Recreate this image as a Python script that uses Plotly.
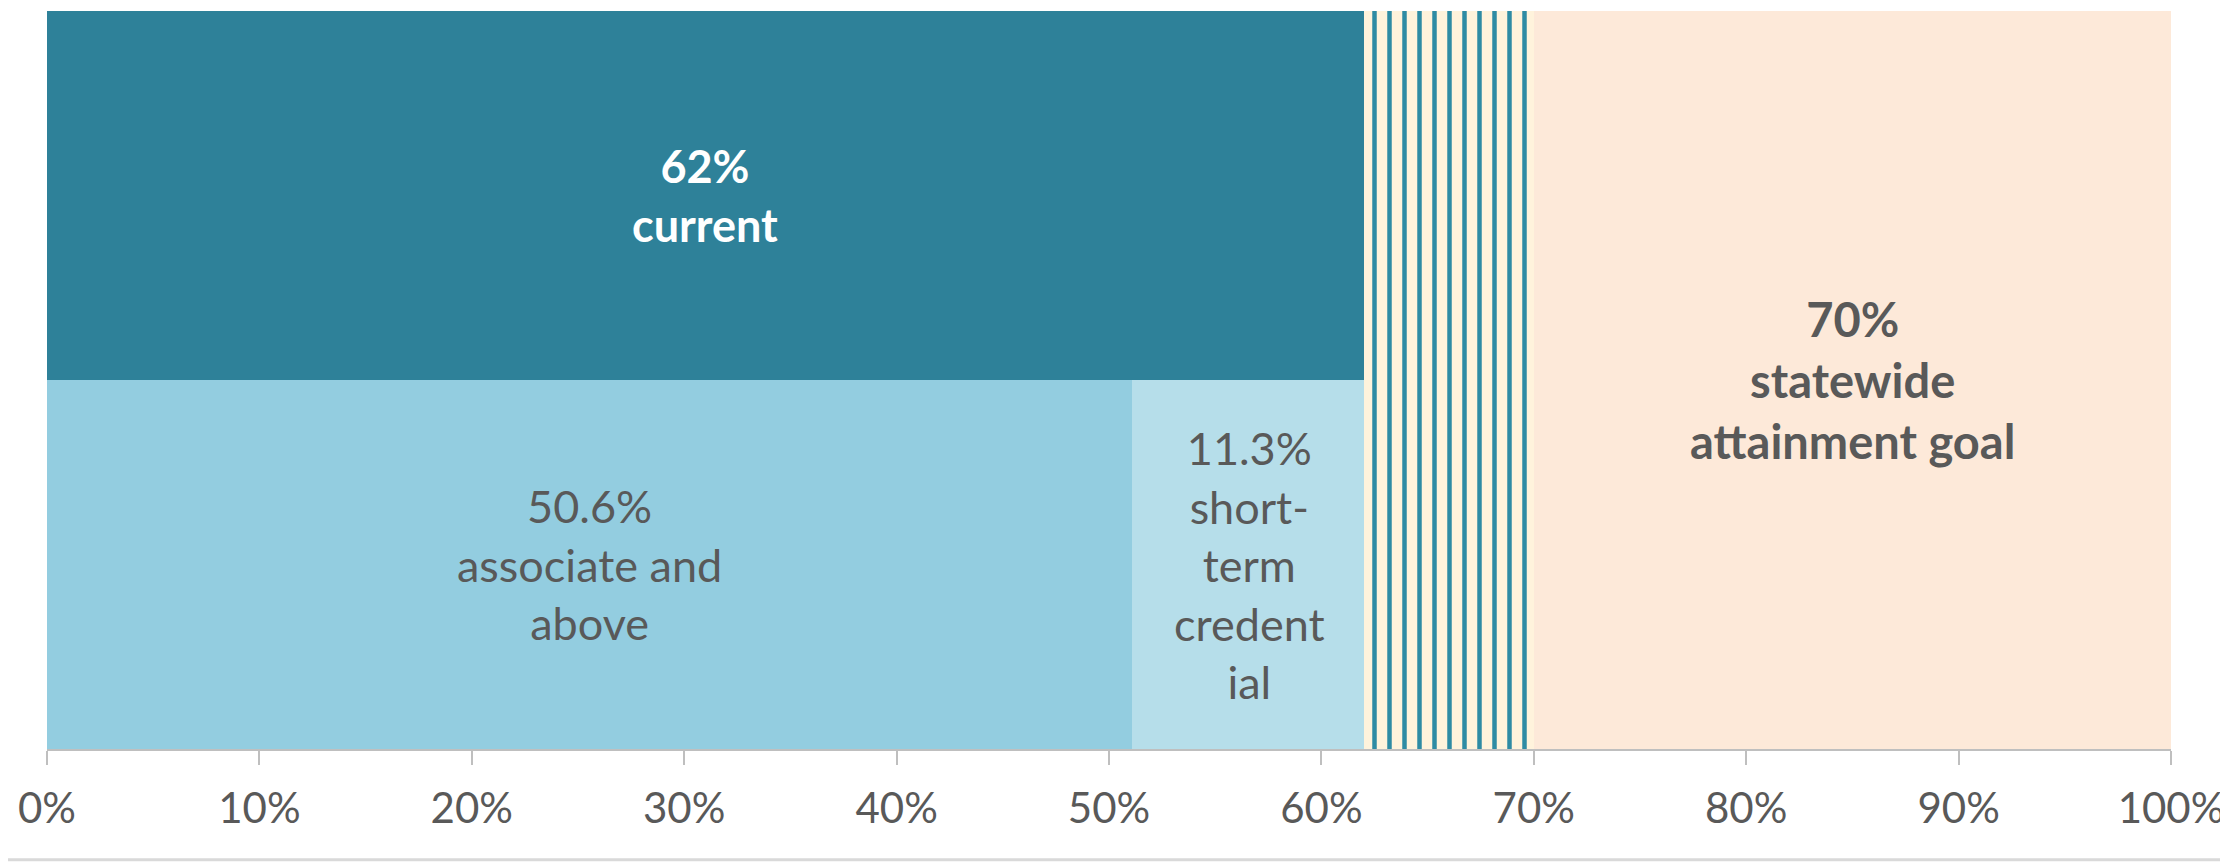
import plotly.graph_objects as go

# ---- data ----
current_share = 62.0          # top row, dark teal
associate_share = 51.1        # bottom row, first segment (bar length as drawn)
short_term_share = 11.0       # bottom row, second segment (bar length as drawn)
goal_share = 70.0             # statewide goal
axis_max = 100.0

current_label = "<b>62%<br>current</b>"
associate_label = "50.6%<br>associate and<br>above"
short_term_label = "11.3%<br>short-<br>term<br>credent<br>ial"
goal_label = "<b>70%<br>statewide<br>attainment goal</b>"

tick_values = [0, 10, 20, 30, 40, 50, 60, 70, 80, 90, 100]
tick_labels = ["0%", "10%", "20%", "30%", "40%", "50%", "60%", "70%", "80%", "90%", "100%"]

# ---- styles ----
C_CURRENT = "#2E8199"
C_ASSOC = "#93CDE0"
C_SHORT = "#B6DEEA"
C_PEACH = "#FDE9D9"
C_CREAM = "#FFF3DC"
C_STRIPE = "#2E8BA4"
C_TEXT = "#595959"
FONT = "Lato"
FS = 45

TOP_Y, BOTTOM_Y, FULL_Y = 1.5, 0.5, 1.0

fig = go.Figure()

def hbar(y, base, length, width, **marker):
    fig.add_trace(go.Bar(
        y=[y], x=[length], base=[base], width=[width], orientation="h",
        marker=dict(line=dict(width=0), **marker), hoverinfo="skip", showlegend=False,
    ))

hbar(TOP_Y, 0, current_share, 1, color=C_CURRENT)
hbar(BOTTOM_Y, 0, associate_share, 1, color=C_ASSOC)
hbar(BOTTOM_Y, associate_share, short_term_share, 1, color=C_SHORT)
hbar(FULL_Y, current_share, goal_share - current_share, 2,
     color=C_STRIPE,
     pattern=dict(shape="|", size=15, solidity=0.3, fgcolor=C_STRIPE,
                  bgcolor=C_CREAM, fillmode="replace", fgopacity=1))
hbar(FULL_Y, goal_share, axis_max - goal_share, 2, color=C_PEACH)

def label(x, y, text, color, size=FS):
    fig.add_annotation(x=x, y=y, text=text, showarrow=False, xref="x", yref="y",
                       font=dict(family=FONT, size=size, color=color), align="center")

label(current_share / 2, TOP_Y, current_label, "white")
label(associate_share / 2, BOTTOM_Y, associate_label, C_TEXT)
label(associate_share + short_term_share / 2, BOTTOM_Y, short_term_label, C_TEXT)
label((goal_share + axis_max) / 2, FULL_Y, goal_label, C_TEXT, size=47)

# page has an 8px body margin, so the figure is drawn 8px in from the window edge
fig.update_layout(
    width=2220, height=857,
    margin=dict(l=39, r=57, t=3, b=116),
    barmode="overlay", bargap=0,
    paper_bgcolor="white", plot_bgcolor="white",
    font=dict(family=FONT, size=FS, color=C_TEXT),
    xaxis=dict(range=[0, axis_max], tickvals=tick_values, ticktext=tick_labels,
               showgrid=False, zeroline=False, showline=True, linecolor="#BFBFBF",
               linewidth=2, ticks="outside", ticklen=14, tickwidth=2, tickcolor="#BFBFBF",
               ticklabelstandoff=8,
               tickfont=dict(family=FONT, size=42, color=C_TEXT), fixedrange=True),
    yaxis=dict(range=[0, 2], visible=False, fixedrange=True),
    shapes=[dict(type="line", xref="paper", yref="paper",
                 x0=-39 / 2124, x1=1 + 57 / 2124, y0=-0.15, y1=-0.15,
                 line=dict(color="#D9D9D9", width=3))],
)

fig.write_html("out.html")
